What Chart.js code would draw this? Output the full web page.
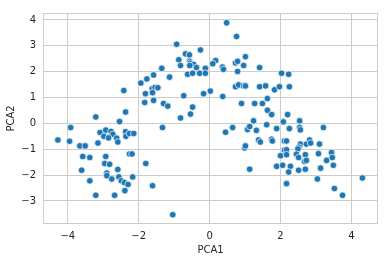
<!DOCTYPE html>
<html><head><meta charset="utf-8">
<script src="https://cdn.jsdelivr.net/npm/chart.js@4/dist/chart.umd.min.js"></script>
<style>html,body{margin:0;padding:0;background:#fff}canvas{display:block}</style>
</head><body>
<canvas id="c" width="384" height="262"></canvas>
<script>
const pca1 = [
-3.21,-2.54,-2.37,-2.42,-3.92,-4.28,-3.95,-3.09,-2.93,-2.78,
-2.73,-2.98,-2.85,-2.62,-2.59,-2.37,-2.36,-2.26,-2.14,-3.15,
-3.66,-3.51,-2.26,-2.19,-3.58,-3.38,-2.93,-2.96,-2.82,-1.80,
-3.61,-2.59,-2.90,-2.90,-2.76,-2.56,-2.49,-2.40,-2.30,-2.17,
-3.38,-2.39,-3.21,-2.68,-1.61,-1.04,-1.33,
0.48,0.76,-0.93,-0.26,-0.68,-0.57,-0.87,-0.56,-0.54,-0.45,
-0.82,-0.56,-0.37,-0.12,0.17,0.09,0.36,0.39,0.73,0.79,
1.01,0.96,0.79,1.41,2.03,2.23,-1.35,-0.62,-0.48,-0.28,
-0.12,-1.13,-1.58,-1.77,-1.94,-1.62,-1.54,-1.46,-1.61,-1.81,
-1.83,-1.58,-1.30,-1.18,-0.73,-0.17,0.02,0.37,0.73,0.82,
0.96,1.01,1.41,1.58,1.83,1.97,2.25,0.90,1.27,1.49,
1.63,1.63,1.75,2.20,-0.48,-0.54,-0.82,
0.45,0.65,1.07,1.13,1.32,1.24,2.08,2.54,1.61,1.89,2.25,2.54,2.56,3.21,
1.38,1.43,1.75,1.77,2.11,2.17,2.56,2.52,2.49,2.73,2.82,2.85,3.10,0.99,1.01,
2.11,2.17,2.00,2.17,2.45,2.51,2.70,3.07,3.44,3.46,3.30,2.68,2.73,
1.89,2.06,2.28,2.23,2.51,2.70,3.13,3.49,1.13,2.17,3.04,3.52,3.75,4.31
];
const pca2 = [
0.25,0.07,0.44,1.27,-0.16,-0.64,-0.69,-0.35,-0.26,-0.31,
-0.42,-0.50,-0.56,-0.57,-0.72,-0.32,-0.50,-0.39,-0.39,-0.76,
-0.87,-0.87,-1.18,-1.18,-1.28,-1.32,-1.28,-1.55,-1.58,-1.55,
-1.81,-1.78,-1.92,-2.02,-2.15,-2.07,-2.22,-2.29,-2.36,-2.07,
-2.22,-2.60,-2.78,-2.78,-2.41,-3.53,-0.16,
3.89,3.36,3.06,2.84,2.69,2.65,2.46,2.40,2.33,2.28,
2.24,2.24,2.16,2.13,2.43,2.31,2.18,2.09,2.34,2.40,
2.58,2.24,2.01,2.16,1.94,1.90,2.13,1.90,1.94,1.94,
1.94,1.79,1.87,1.72,1.56,1.34,1.39,1.38,1.19,1.15,
0.81,0.89,0.77,0.67,1.07,1.15,1.25,1.04,1.42,1.49,
1.45,1.45,1.42,1.45,1.30,1.42,1.42,0.77,0.77,0.77,
0.96,0.51,0.34,0.34,0.63,0.36,0.21,
-0.34,-0.16,-0.24,-0.12,-0.27,0.10,0.06,0.10,-0.05,-0.20,-0.20,-0.16,-0.25,-0.16,
-0.64,-0.72,-0.61,-0.68,-0.68,-0.68,-0.80,-0.92,-0.99,-0.80,-0.64,-0.76,-0.80,-0.95,-0.87,
-1.03,-1.02,-1.25,-1.21,-1.19,-1.32,-1.21,-1.17,-1.13,-1.32,-1.43,-1.47,-1.43,
-1.66,-1.62,-1.66,-1.88,-1.81,-1.77,-1.73,-1.62,-1.77,-2.33,-2.15,-2.52,-2.78,-2.11
];
const xTicks = [-4, -2, 0, 2, 4];
const yTicks = [-3, -2, -1, 0, 1, 2, 3, 4];
const xLabel = 'PCA1';
const yLabel = 'PCA2';

const points = pca1.map((x, i) => ({x: x, y: pca2[i]}));
const fmt = v => (v < 0 ? '\u2212' + Math.abs(v) : String(v));
const font = {family: 'DejaVu Sans', size: 10};
const textColor = '#262626';
const gridColor = '#cccccc';

const frame = {
  id: 'frame',
  beforeDatasetsDraw(chart) {
    const {ctx, chartArea: a} = chart;
    ctx.save();
    ctx.strokeStyle = gridColor;
    ctx.lineWidth = 1;
    ctx.strokeRect(Math.round(a.left) + 0.5, Math.round(a.top) + 0.5,
      Math.round(a.right - a.left) - 1, Math.round(a.bottom - a.top) - 1);
    ctx.restore();
  }
};

new Chart(document.getElementById('c'), {
  type: 'scatter',
  data: {datasets: [{
    data: points,
    backgroundColor: '#1f77b4',
    borderColor: '#ffffff',
    borderWidth: 0.7,
    pointRadius: 3.3,
    pointHoverRadius: 3.3
  }]},
  options: {
    responsive: false,
    devicePixelRatio: 1,
    animation: false,
    events: [],
    layout: {padding: {top: 6, right: 6, left: 0, bottom: 0}},
    plugins: {legend: {display: false}, tooltip: {enabled: false}},
    scales: {
      x: {
        type: 'linear', min: -4.70, max: 4.75,
        afterBuildTicks: s => { s.ticks = xTicks.map(v => ({value: v})); },
        afterFit: s => { s.height = 38; },
        grid: {color: gridColor, lineWidth: 1, drawTicks: false},
        border: {display: false},
        ticks: {font: font, color: textColor, padding: 6, callback: fmt, maxRotation: 0},
        title: {display: true, text: xLabel, font: font, color: textColor, padding: {top: 0, bottom: 6}}
      },
      y: {
        type: 'linear', min: -3.89, max: 4.27,
        afterBuildTicks: s => { s.ticks = yTicks.map(v => ({value: v})); },
        afterFit: s => { s.width = 43; },
        grid: {color: gridColor, lineWidth: 1, drawTicks: false},
        border: {display: false},
        ticks: {font: font, color: textColor, padding: 7, callback: fmt},
        title: {display: true, text: yLabel, font: font, color: textColor, padding: {top: 5, bottom: 0}}
      }
    }
  },
  plugins: [frame]
});
</script>
</body></html>
